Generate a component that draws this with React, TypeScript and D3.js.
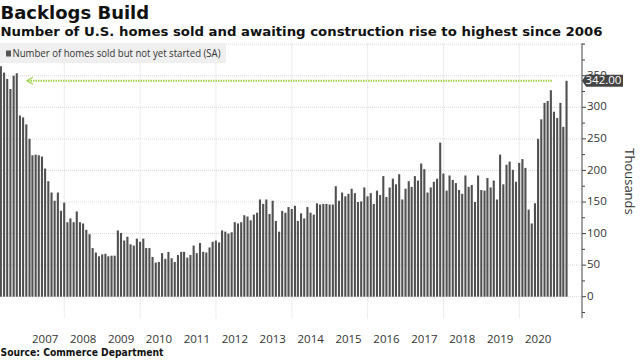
import React from "react";
import * as d3 from "d3";

const title = "Backlogs Build";
const subtitle = "Number of U.S. homes sold and awaiting construction rise to highest since 2006";
const legendLabel = "Number of homes sold but not yet started (SA)";
const sourceText = "Source: Commerce Department";
const axisTitle = "Thousands";
const startMonth = new Date(2006, 3, 1); // April 2006
const values: number[] = [
  365, 355, 345, 329, 350, 354, 287, 284, 273, 250, 224, 225,
  224, 222, 203, 183, 165, 152, 165, 136, 149, 118, 124, 118,
  135, 118, 116, 106, 99, 77, 70, 64, 67, 68, 64, 65,
  65, 105, 101, 89, 95, 83, 81, 92, 87, 92, 77, 77,
  63, 54, 55, 69, 60, 71, 61, 55, 66, 71, 71, 62,
  66, 81, 69, 85, 71, 70, 78, 87, 89, 86, 105, 103,
  100, 102, 118, 116, 118, 129, 127, 121, 130, 133, 154, 147,
  154, 131, 152, 120, 103, 136, 133, 142, 139, 144, 120, 132,
  124, 142, 133, 130, 148, 146, 147, 147, 146, 146, 175, 152,
  165, 159, 163, 171, 164, 150, 151, 173, 159, 164, 147, 168,
  161, 191, 158, 173, 187, 178, 194, 154, 171, 183, 174, 191,
  184, 211, 202, 165, 173, 182, 187, 244, 195, 168, 192, 185,
  180, 169, 163, 192, 174, 177, 150, 192, 169, 168, 188, 173,
  184, 154, 225, 178, 209, 214, 201, 182, 212, 218, 204, 138,
  116, 148, 250, 281, 307, 310, 327, 293, 283, 307, 269, 342,
];
const yearLabels = [2007, 2008, 2009, 2010, 2011, 2012, 2013, 2014, 2015, 2016, 2017, 2018, 2019, 2020];
const gridYears = [2008, 2010, 2012, 2014, 2016, 2018, 2020];
const yMajor = [0, 50, 100, 150, 200, 250, 300, 350];
const yMinor = [-25, 25, 75, 125, 175, 225, 275, 325, 375, 400];
const latestValue = 342;

export default function App() {
  const W = 640, H = 360;
  const x = d3.scaleTime().domain([new Date(2008, 0, 1), new Date(2020, 0, 1)]).range([64.3, 519.3]);
  const y = d3.scaleLinear().domain([0, 300]).range([296.7, 107.3]);
  const axisX = 582;
  const plotTop = y(401.5);
  const plotBottom = y(-34);
  const months = values.map((_, i) => d3.timeMonth.offset(startMonth, i));
  const monthEnd = (d: Date) => new Date(d.getFullYear(), d.getMonth() + 1, 0);
  const barW = 2.1;
  const labelFont = "'Open Sans', 'Noto Sans', sans-serif";
  const boldFont = "'DejaVu Sans', Verdana, sans-serif";
  const yl = y(latestValue);
  const dataLineStart = 27;
  const dataLineEnd = 552;

  return (
    <svg width={W} height={H} style={{ position: "absolute", left: 0, top: 0, background: "#fff" }}>
      <rect x={0} y={0} width={W} height={H} fill="#fff" />
      <text x={0.5} y={19} fontFamily={boldFont} fontWeight="bold" fontSize={18} fill="#111">{title}</text>
      <text x={0.5} y={36} fontFamily={boldFont} fontWeight="bold" fontSize={13} fill="#111" textLength={602} lengthAdjust="spacingAndGlyphs">{subtitle}</text>

      {/* horizontal gridlines */}
      {[...yMajor, 400].map((v) => (
        <line key={"h" + v} x1={0} x2={axisX} y1={y(v)} y2={y(v)} stroke="#d9d9d9" strokeWidth={1} strokeDasharray="1,1" />
      ))}
      {/* vertical gridlines */}
      {gridYears.map((yr) => (
        <line key={"v" + yr} x1={x(new Date(yr, 0, 1))} x2={x(new Date(yr, 0, 1))} y1={plotTop} y2={plotBottom} stroke="#d9d9d9" strokeWidth={1} strokeDasharray="1,1" />
      ))}

      {/* legend */}
      <rect x={0} y={43} width={226} height={20} fill="#efefef" />
      <rect x={6} y={50.5} width={5} height={6} fill="#555" />
      <text x={12.5} y={54} dominantBaseline="middle" fontFamily={labelFont} fontSize={11} fill="#333" textLength={208} lengthAdjust="spacingAndGlyphs">{legendLabel}</text>

      {/* bars */}
      {values.map((v, i) => {
        const cx = x(monthEnd(months[i]));
        return <rect key={i} x={cx - barW / 2} y={y(v)} width={barW} height={y(0) - y(v)} fill="#505050" />;
      })}

      {/* reference line at latest value */}
      <line x1={dataLineStart + 1} x2={dataLineEnd} y1={yl} y2={yl} stroke="#a2d44a" strokeWidth={2} strokeDasharray="1.5,1" />
      <path d={`M${dataLineStart + 6},${yl - 3.5} L${dataLineStart},${yl} L${dataLineStart + 6},${yl + 3.5}`} fill="none" stroke="#a2d44a" strokeWidth={1.3} />

      {/* right axis */}
      <line x1={axisX} x2={axisX} y1={plotTop} y2={plotBottom} stroke="#444" strokeWidth={1} />
      {yMinor.map((v) => (
        <line key={"mt" + v} x1={axisX} x2={axisX + 3} y1={y(v)} y2={y(v)} stroke="#444" strokeWidth={1} />
      ))}
      {yMajor.map((v) => (
        <g key={"t" + v}>
          <line x1={axisX} x2={axisX + 4} y1={y(v)} y2={y(v)} stroke="#444" strokeWidth={1} />
          <text x={axisX + 5} y={y(v)} dominantBaseline="middle" fontFamily={labelFont} fontSize={11.5} fill="#333">{v}</text>
        </g>
      ))}

      {/* latest value tag */}
      <path d={`M${axisX},${yl} L${axisX + 4},${yl - 6} L${623},${yl - 6} L${623},${yl + 6} L${axisX + 4},${yl + 6} Z`} fill="#444" />
      <text x={603.5} y={yl + 0.5} textAnchor="middle" dominantBaseline="middle" fontFamily={labelFont} fontSize={11.5} fill="#fff">{latestValue.toFixed(2)}</text>

      <text transform={`translate(628,181.5) rotate(90)`} textAnchor="middle" dominantBaseline="middle" fontFamily={labelFont} fontSize={13} fill="#333">{axisTitle}</text>

      {/* year labels */}
      {yearLabels.map((yr) => (
        <text key={"yl" + yr} x={x(new Date(yr, 6, 1))} y={342.5} textAnchor="middle" fontFamily={labelFont} fontSize={11.5} fill="#333">{yr}</text>
      ))}

      <text x={0.5} y={355.5} fontFamily={boldFont} fontWeight="bold" fontSize={10} fill="#111" textLength={163} lengthAdjust="spacingAndGlyphs">{sourceText}</text>
    </svg>
  );
}
